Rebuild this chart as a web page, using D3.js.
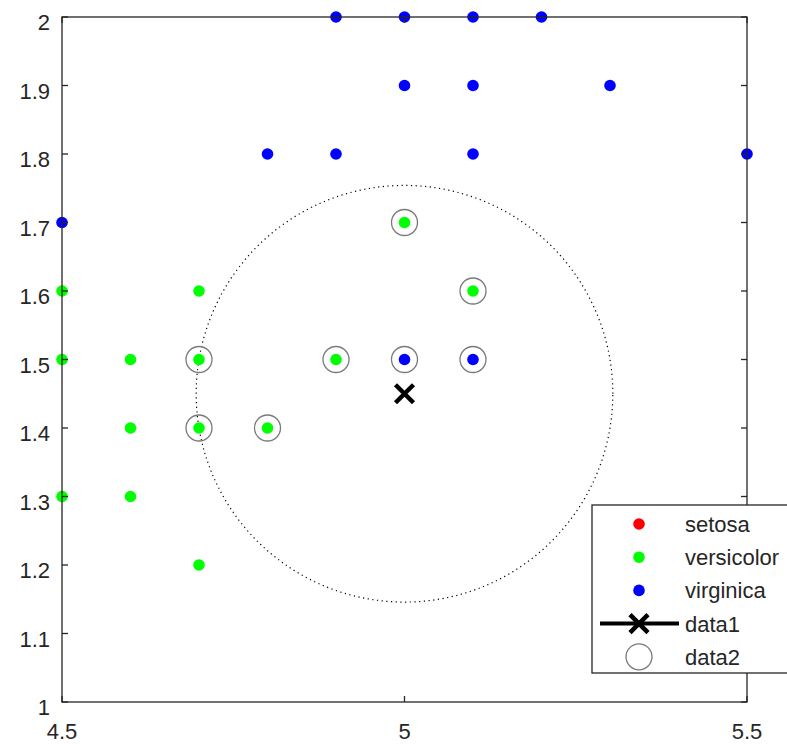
<!DOCTYPE html>
<html><head><meta charset="utf-8">
<script src="https://cdn.jsdelivr.net/npm/d3@7"></script>
<style>body{margin:0;background:#fff}svg{display:block}text{font-family:"Liberation Sans",Arial,sans-serif}</style>
</head><body>
<svg id="c" width="787" height="744"></svg>
<script>
const xTicks = [4.5, 5, 5.5];
const yTicks = [1, 1.1, 1.2, 1.3, 1.4, 1.5, 1.6, 1.7, 1.8, 1.9, 2];
const seriesNames = ["setosa", "versicolor", "virginica"];
const seriesColors = ["#ff0000", "#00ff00", "#0000ff"];
const setosaX = [];
const setosaY = [];
const versicolorX = [5.0, 4.5, 4.7, 5.1, 4.5, 4.6, 4.7, 4.9, 4.6, 4.7, 4.8, 4.5, 4.6, 4.7];
const versicolorY = [1.7, 1.6, 1.6, 1.6, 1.5, 1.5, 1.5, 1.5, 1.4, 1.4, 1.4, 1.3, 1.3, 1.2];
const virginicaX = [4.9, 5.0, 5.1, 5.2, 5.0, 5.1, 5.3, 4.8, 4.9, 5.1, 5.5, 4.5, 5.0, 5.1];
const virginicaY = [2.0, 2.0, 2.0, 2.0, 1.9, 1.9, 1.9, 1.8, 1.8, 1.8, 1.8, 1.7, 1.5, 1.5];
const queryX = [5.0];
const queryY = [1.45];
const neighborX = [5.0, 5.1, 4.7, 4.9, 5.0, 5.1, 4.7, 4.8];
const neighborY = [1.7, 1.6, 1.5, 1.5, 1.5, 1.5, 1.4, 1.4];
const legendLabels = ["setosa", "versicolor", "virginica", "data1", "data2"];

const svg = d3.select("#c");
const L = 62, R = 747, T = 17, B = 702;
const x = d3.scaleLinear().domain([4.5, 5.5]).range([L, R]);
const y = d3.scaleLinear().domain([1, 2]).range([B, T]);
const axisCol = "#262626";

// neighbor search radius = distance to farthest neighbor
const rad = d3.max(neighborX.map((v, i) => Math.hypot(v - queryX[0], neighborY[i] - queryY[0])));

const plot = svg.append("g");
// dotted circle
const circ = d3.range(0, 361, 1).map(a => [queryX[0] + rad * Math.cos(a * Math.PI / 180), queryY[0] + rad * Math.sin(a * Math.PI / 180)]);
plot.append("path").attr("d", d3.line().x(d => x(d[0])).y(d => y(d[1]))(circ))
  .attr("fill", "none").attr("stroke", "#000").attr("stroke-width", 1.2).attr("stroke-dasharray", "1.2,3.5");

const series = [[setosaX, setosaY], [versicolorX, versicolorY], [virginicaX, virginicaY]];
series.forEach((s, k) => {
  plot.append("g").selectAll("circle").data(s[0].map((v, i) => [v, s[1][i]])).join("circle")
    .attr("cx", d => x(d[0])).attr("cy", d => y(d[1])).attr("r", 5.8).attr("fill", seriesColors[k]);
});
function xMark(g, cx, cy) {
  const h = 9;
  g.append("path").attr("d", `M${cx - h},${cy - h}L${cx + h},${cy + h}M${cx - h},${cy + h}L${cx + h},${cy - h}`)
    .attr("stroke", "#000").attr("stroke-width", 4.5).attr("fill", "none");
}
xMark(plot, x(queryX[0]), y(queryY[0]));
plot.append("g").selectAll("circle").data(neighborX.map((v, i) => [v, neighborY[i]])).join("circle")
  .attr("cx", d => x(d[0])).attr("cy", d => y(d[1])).attr("r", 13)
  .attr("fill", "none").attr("stroke", "#7a7a7a").attr("stroke-width", 1.3);

// axes box
const ax = svg.append("g");
ax.append("rect").attr("x", L).attr("y", T).attr("width", R - L).attr("height", B - T)
  .attr("fill", "none").attr("stroke", axisCol).attr("stroke-width", 1.3);
const tl = 6;
yTicks.forEach(t => {
  ax.append("line").attr("x1", L).attr("x2", L + tl).attr("y1", y(t)).attr("y2", y(t)).attr("stroke", axisCol).attr("stroke-width", 1.3);
  ax.append("line").attr("x1", R).attr("x2", R - tl).attr("y1", y(t)).attr("y2", y(t)).attr("stroke", axisCol).attr("stroke-width", 1.3);
  ax.append("text").attr("x", L - 12).attr("y", y(t) + 13).attr("text-anchor", "end")
    .attr("font-size", 22).attr("fill", axisCol).text(d3.format("")(t));
});
xTicks.forEach(t => {
  ax.append("line").attr("x1", x(t)).attr("x2", x(t)).attr("y1", B).attr("y2", B - tl).attr("stroke", axisCol).attr("stroke-width", 1.3);
  ax.append("line").attr("x1", x(t)).attr("x2", x(t)).attr("y1", T).attr("y2", T + tl).attr("stroke", axisCol).attr("stroke-width", 1.3);
  ax.append("text").attr("x", x(t)).attr("y", B + 37).attr("text-anchor", "middle")
    .attr("font-size", 22).attr("fill", axisCol).text(d3.format("")(t));
});

// legend
const lg = svg.append("g");
const lx = 592, ly = 505, lw = 210, lh = 168;
lg.append("rect").attr("x", lx).attr("y", ly).attr("width", lw).attr("height", lh)
  .attr("fill", "#fff").attr("stroke", axisCol).attr("stroke-width", 1.3);
const rowY = i => 524 + i * 33.2;
const mx = 639;
legendLabels.forEach((lab, i) => {
  const cy = rowY(i);
  if (i < 3) {
    lg.append("circle").attr("cx", mx).attr("cy", cy).attr("r", 5.8).attr("fill", seriesColors[i]);
  } else if (i === 3) {
    lg.append("line").attr("x1", 600).attr("x2", 679).attr("y1", cy).attr("y2", cy).attr("stroke", "#000").attr("stroke-width", 4);
    xMark(lg, mx, cy);
  } else {
    lg.append("circle").attr("cx", mx).attr("cy", cy).attr("r", 13).attr("fill", "none").attr("stroke", "#7a7a7a").attr("stroke-width", 1.3);
  }
  lg.append("text").attr("x", 685).attr("y", cy + 8).attr("font-size", 22).attr("fill", axisCol).text(lab);
});
</script>
</body></html>
